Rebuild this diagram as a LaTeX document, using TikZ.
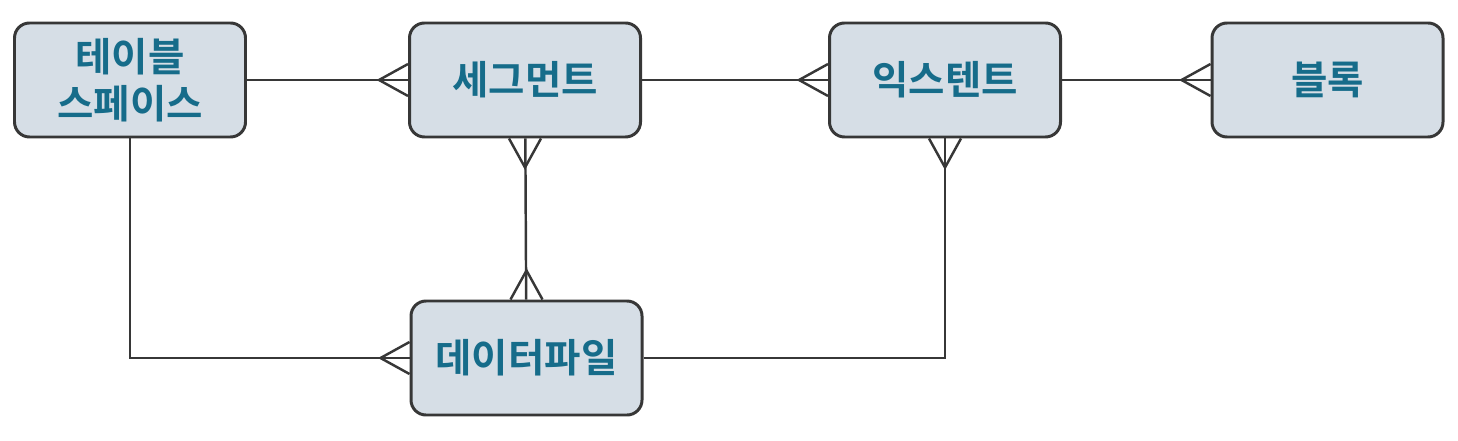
\documentclass[tikz,border=0pt]{standalone}
\usepackage{fontspec}
\newfontfamily\kofont{Noto Sans CJK KR}[BoldFont={Noto Sans CJK KR Bold}]
\definecolor{boxfill}{RGB}{214,222,230}
\definecolor{boxtext}{RGB}{22,108,138}
\definecolor{lineclr}{RGB}{55,55,55}

\begin{document}
\begin{tikzpicture}[
    entity/.style={
        rectangle,
        rounded corners=0.3cm,
        draw=lineclr,
        fill=boxfill,
        line width=1.7pt,
        minimum width=4.62cm,
        minimum height=2.28cm,
        align=center,
        text=boxtext,
        font=\kofont\fontsize{22.5}{27}\selectfont\bfseries
    },
    link/.style={draw=lineclr, line width=1.4pt},
    crow/.pic={
        \draw[link] (0,0.32) -- (-0.58,0) -- (0,-0.32);
    }
]

\useasboundingbox (0,0) rectangle (29.16,8.8);

\node[entity] (tbs) at (2.6,7.2) {테이블\\스페이스};
\node[entity] (seg) at (10.5,7.2) {세그먼트};
\node[entity] (ext) at (18.9,7.2) {익스텐트};
\node[entity] (blk) at (26.55,7.2) {블록};
\node[entity] (dat) at (10.53,1.64) {데이터파일};

\coordinate (tbsdown) at (tbs.south |- dat.west);
\coordinate (extdown) at (ext.south |- dat.east);

\draw[link] (tbs) -- (seg);
\draw[link] (seg) -- (ext);
\draw[link] (ext) -- (blk);
\draw[link] (seg) -- (dat);
\draw[link] (tbs.south) -- (tbsdown) -- (dat.west);
\draw[link] (dat.east) -- (extdown) -- (ext.south);

% crow's feet on the many side
\foreach \n/\a/\r in {seg/west/0, ext/west/0, blk/west/0, dat/west/0,
                      seg/south/90, ext/south/90, dat/north/-90}
    \pic[rotate=\r] at (\n.\a) {crow};

\end{tikzpicture}
\end{document}
